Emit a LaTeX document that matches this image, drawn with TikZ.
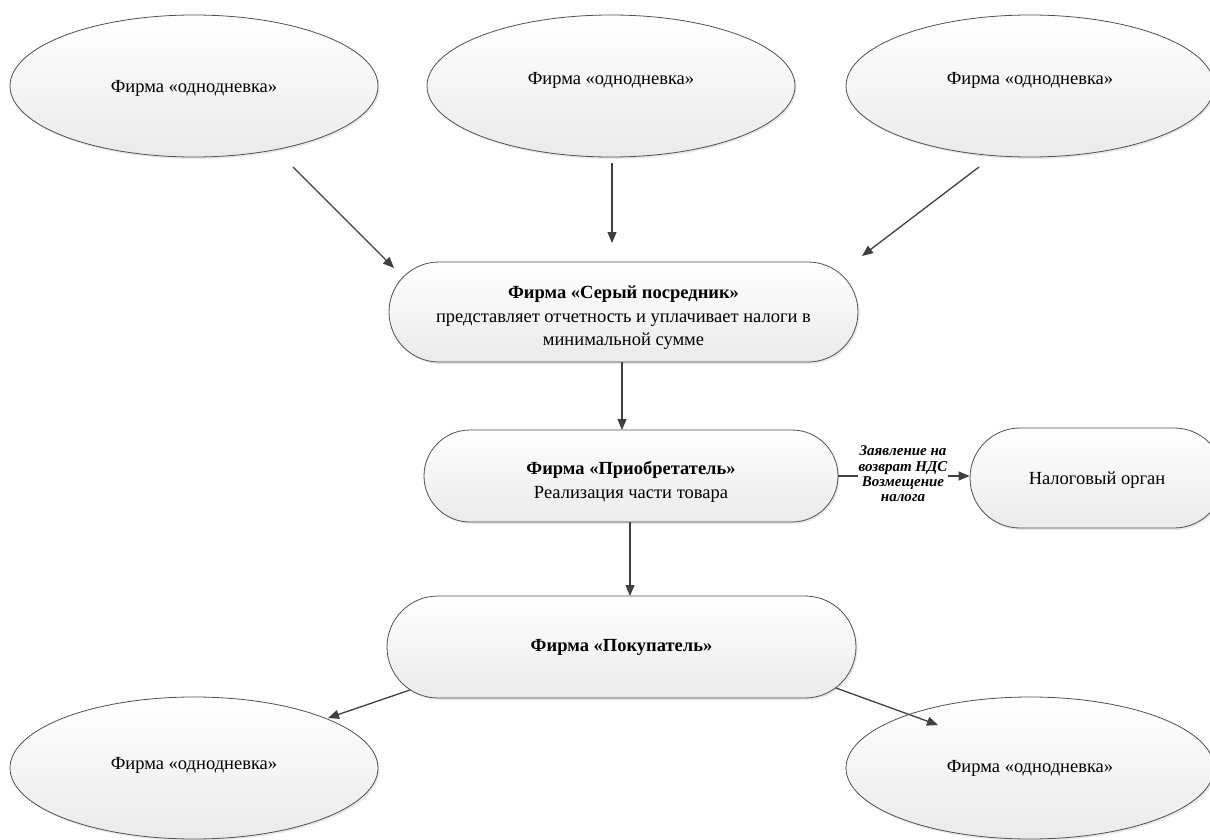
\documentclass[tikz,border=0pt]{standalone}
\usepackage{fontspec}
\setmainfont{Liberation Serif}
\usetikzlibrary{shapes.geometric,shapes.misc,arrows.meta,shadows}
\definecolor{linec}{HTML}{404040}
\definecolor{borderc}{HTML}{505050}
\newcommand{\mvtext}[2]{\raisebox{#1}[\height][\depth]{#2}}
\tikzset{
  shapebase/.style={draw=borderc, line width=0.8pt, top color=white, bottom color=black!8,
    drop shadow={opacity=0.18, shadow xshift=1.5pt, shadow yshift=-2pt},
    font=\fontsize{18.5}{23.5}\selectfont, align=center, inner sep=0pt},
  oneday/.style={shapebase, ellipse, minimum width=368pt, minimum height=142pt},
  pill/.style={shapebase, rounded rectangle},
  arr/.style={draw=linec, line width=1.3pt, -{Triangle[length=11pt,width=9pt]}},
  lbl/.style={font=\fontsize{15}{15.3}\selectfont\bfseries\itshape, align=center, inner sep=1pt}
}
\begin{document}
\begin{tikzpicture}[x=1pt,y=-1pt]
\useasboundingbox (0,0) rectangle (1210,840);
% one-day firms
\node[oneday] (e1) at (194,86) {\mvtext{-2pt}{Фирма «однодневка»}};
\node[oneday] (e2) at (611,86) {\mvtext{6pt}{Фирма «однодневка»}};
\node[oneday] (e3) at (1030,86) {\mvtext{6pt}{Фирма «однодневка»}};
\node[oneday] (e4) at (194,768) {\mvtext{3pt}{Фирма «однодневка»}};
\node[oneday] (e5) at (1030,768) {Фирма «однодневка»};
% process boxes
\node[pill, minimum width=469pt, minimum height=100pt] (ser) at (623.5,312)
  {\rule{0pt}{24pt}\textbf{Фирма «Серый посредник»}\\представляет отчетность и уплачивает налоги в\\минимальной сумме};
\node[pill, minimum width=414pt, minimum height=92pt] (pri) at (631,476)
  {\rule{0pt}{25pt}\textbf{Фирма «Приобретатель»}\\Реализация части товара};
\node[pill, minimum width=469pt, minimum height=102pt] (pok) at (621.5,647)
  {\textbf{Фирма «Покупатель»}};
\node[pill, minimum width=254pt, minimum height=100pt] (nal) at (1097,478)
  {\mvtext{-2.5pt}{Налоговый орган}};
% free ends
\coordinate (a1s) at (293,167);
\coordinate (a1e) at (394,268);
\coordinate (a2s) at (612,163);
\coordinate (a2e) at (612,243);
\coordinate (a3s) at (979,167);
\coordinate (a3e) at (862,256);
\coordinate (b1s) at (410,690);
\coordinate (b1e) at (328,718);
\coordinate (b2s) at (836,688);
\coordinate (b2e) at (938,725);
% connectors
\draw[arr] (a1s) -- (a1e);
\draw[arr] (a2s) -- (a2e);
\draw[arr] (a3s) -- (a3e);
\draw[arr] (622,362) -- (622,430);
\draw[arr] (pri.south) ++(-1,0) -- (630,596);
\draw[arr] (pri.east) -- (pri.east -| nal.west);
\node[lbl, fill=white] (lab) at (903,474) {Заявление на\\возврат НДС\\Возмещение\\налога};
\draw[arr] (b1s) -- (b1e);
\draw[arr] (b2s) -- (b2e);
\end{tikzpicture}
\end{document}
